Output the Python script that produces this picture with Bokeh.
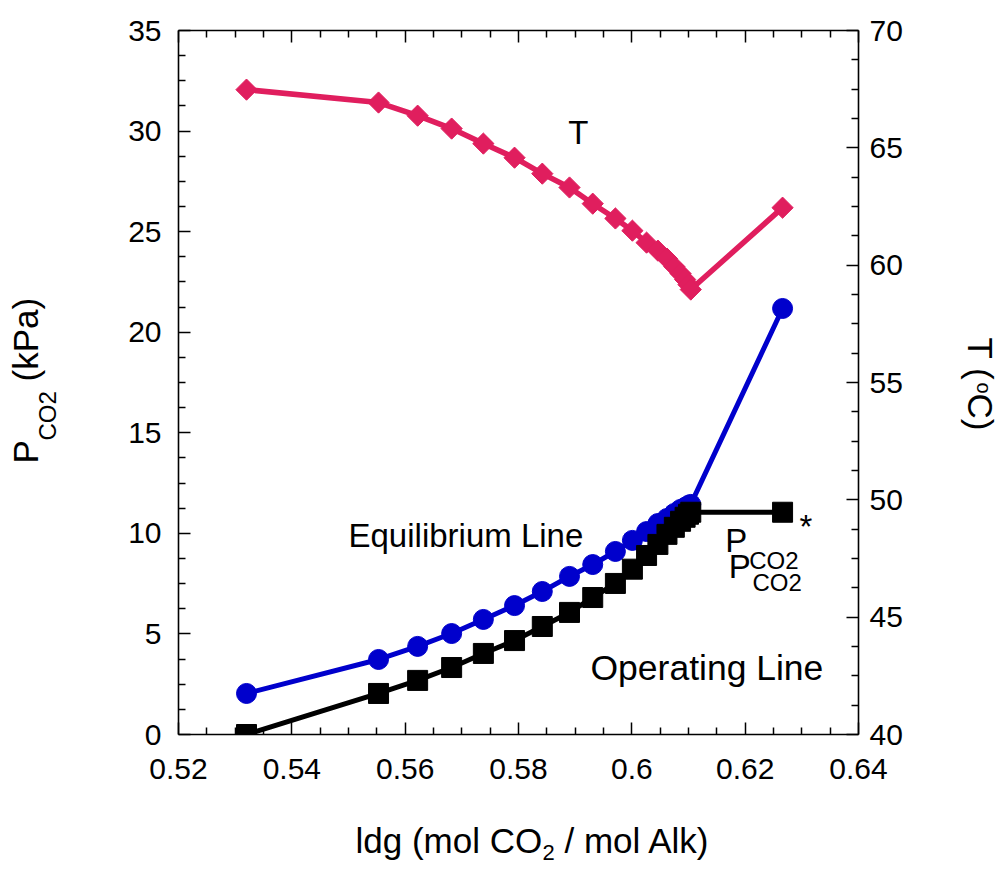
import math
from bokeh.plotting import figure
from bokeh.layouts import column, row
from bokeh.models import (Range1d, LinearAxis, Label, FixedTicker,
                          CustomJSTickFormatter)
from bokeh.embed import file_html
from bokeh.resources import INLINE

# CO2 loading of the solvent, shared by all three series
ldg = [0.5320, 0.5553, 0.5622, 0.5682, 0.5738, 0.5793, 0.5842, 0.5890,
       0.5931, 0.5971, 0.6001, 0.6026, 0.6046, 0.6062, 0.6075, 0.6086,
       0.6094, 0.6100, 0.6104, 0.6266]

# equilibrium CO2 partial pressure, kPa
p_co2_eq = [2.04, 3.73, 4.38, 5.02, 5.72, 6.41, 7.11, 7.86, 8.45, 9.10,
            9.65, 10.09, 10.49, 10.74, 10.99, 11.19, 11.29, 11.39, 11.44,
            21.18]

# operating CO2 partial pressure, kPa
p_co2_op = [0.0, 2.04, 2.69, 3.33, 4.03, 4.67, 5.37, 6.07, 6.81, 7.51,
            8.22, 8.90, 9.45, 9.95, 10.30, 10.60, 10.80, 10.95, 11.05,
            11.05]

# temperature profile, deg C
temp_c = [67.48, 66.93, 66.37, 65.82, 65.18, 64.58, 63.90, 63.31, 62.62,
          61.99, 61.47, 60.96, 60.62, 60.28, 59.94, 59.64, 59.39, 59.17,
          58.96, 62.45]

x_ticks = [0.52, 0.54, 0.56, 0.58, 0.60, 0.62, 0.64]
p_ticks = [0, 5, 10, 15, 20, 25, 30, 35]
t_ticks = [40, 45, 50, 55, 60, 65, 70]

FONT = "Liberation Sans"
PINK = "#E01E5E"
BLUE = "#0000CC"

# ---- main plot -----------------------------------------------------------
p = figure(width=860, height=800, output_backend="svg", toolbar_location=None,
           x_range=Range1d(0.52, 0.64), y_range=Range1d(0, 35),
           min_border_left=108, min_border_right=72,
           min_border_top=30, min_border_bottom=66)
p.extra_y_ranges = {"T": Range1d(40, 70)}
p.grid.visible = False
p.outline_line_color = None
p.background_fill_color = "white"
p.border_fill_color = "white"


def minor_ticks(major, n=4):
    out = []
    for a, b in zip(major[:-1], major[1:]):
        for k in range(1, n):
            out.append(a + (b - a) * k / n)
    return out


def style(ax, major, standoff, show_labels=True):
    ax.ticker = FixedTicker(ticks=major, minor_ticks=minor_ticks(major))
    ax.axis_line_width = 1.6
    ax.major_tick_line_width = 1.5
    ax.minor_tick_line_width = 1.5
    ax.major_tick_in = 12
    ax.major_tick_out = 0
    ax.minor_tick_in = 7
    ax.minor_tick_out = 0
    ax.major_label_text_font = FONT
    ax.major_label_text_font_size = "30px"
    ax.major_label_text_color = "black"
    ax.major_label_standoff = standoff
    if show_labels:
        ax.formatter = CustomJSTickFormatter(
            code="return String(parseFloat(tick.toFixed(2)));")
    else:
        ax.formatter = CustomJSTickFormatter(code="return '';")


style(p.xaxis[0], x_ticks, 24)
style(p.yaxis[0], p_ticks, 17)

right = LinearAxis(y_range_name="T")
style(right, t_ticks, 11)
p.add_layout(right, "right")

top = LinearAxis()
style(top, x_ticks, 0, show_labels=False)
p.add_layout(top, "above")

# temperature profile on the right axis
p.line(ldg, temp_c, y_range_name="T", line_color=PINK, line_width=5.5)
p.scatter(ldg, temp_c, y_range_name="T", marker="square", angle=math.pi / 4,
          size=15, fill_color=PINK, line_color=PINK)

# equilibrium line
p.line(ldg, p_co2_eq, line_color=BLUE, line_width=5)
p.scatter(ldg, p_co2_eq, marker="circle", size=20,
          fill_color=BLUE, line_color=BLUE)

# operating line
p.line(ldg, p_co2_op, line_color="black", line_width=5)
p.scatter(ldg, p_co2_op, marker="square", size=20,
          fill_color="black", line_color="black")


def text(fig, x, y, s, size=33, angle=0.0, align="left"):
    fig.add_layout(Label(x=x, y=y, text=s, text_font=FONT,
                         text_font_size=f"{size}px", text_color="black",
                         text_align=align, text_baseline="middle",
                         angle=angle))


# in-plot annotations (data coordinates)
text(p, 0.5888, 29.92, "T")
text(p, 0.5500, 9.91, "Equilibrium Line")
text(p, 0.5927, 3.29, "Operating Line", size=35.5)
text(p, 0.6165, 9.66, "P")
text(p, 0.6207, 8.66, "CO2", size=24)
text(p, 0.6296, 10.35, "*")
text(p, 0.6171, 8.36, "P")
text(p, 0.6213, 7.57, "CO2", size=24)


# ---- title strips (pixel coordinates) ------------------------------------
# Strips sharing the row with the main plot get their frame aligned to the
# main frame (704 px tall), so their y range spans those 704 px.
def strip(w, h, y_span):
    f = figure(width=w, height=h, output_backend="svg", toolbar_location=None,
               x_range=Range1d(0, w), y_range=Range1d(0, y_span),
               x_axis_location=None, y_axis_location=None, min_border=0)
    f.grid.visible = False
    f.outline_line_color = None
    f.background_fill_color = "white"
    f.border_fill_color = "white"
    return f


# left title, reading upwards; pieces placed by their centres
left_strip = strip(70, 800, 704)
up = math.pi / 2
text(left_strip, 25, 282.7, "P", size=35, angle=up, align="center")
text(left_strip, 47, 318.7, "CO2", size=24, angle=up, align="center")
text(left_strip, 25, 394.8, "(kPa)", size=35, angle=up, align="center")

# right title, reading downwards
right_strip = strip(68, 800, 704)
down = -math.pi / 2
text(right_strip, 49.5, 375.6, "T (", size=35, angle=down, align="center")
text(right_strip, 53, 346.5, "o", size=20, angle=down, align="center")
text(right_strip, 49.5, 322.5, "C)", size=35, angle=down, align="center")

# x title
bottom_strip = strip(998, 69, 69)
text(bottom_strip, 355, 29, "ldg (mol CO", size=35)
text(bottom_strip, 542, 17, "2", size=22)
text(bottom_strip, 564, 29, "/ mol Alk)", size=35)

layout = column(row(left_strip, p, right_strip), bottom_strip)

open("out.html", "w").write(file_html(layout, INLINE))
